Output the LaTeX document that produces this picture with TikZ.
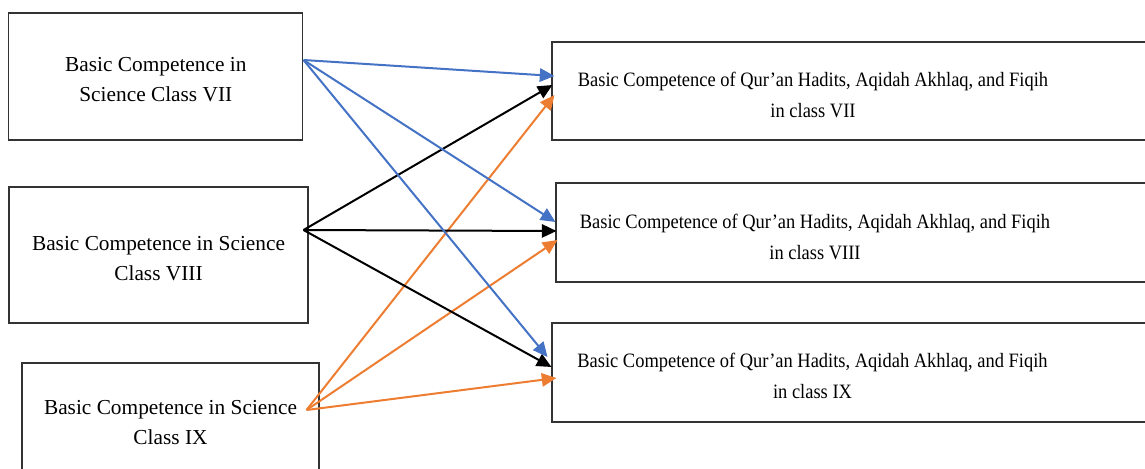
\documentclass[tikz,border=0pt]{standalone}
\usepackage{fontspec}
\setmainfont{Liberation Serif}
\newfontfamily\narrowserif[FakeStretch=0.905]{Liberation Serif}
\usetikzlibrary{arrows.meta,calc}
\definecolor{cblue}{HTML}{4472C4}
\definecolor{corange}{HTML}{ED7D31}
\begin{document}
\begin{tikzpicture}[x=0.75pt,y=-0.75pt,
  box/.style={draw=black!80, line width=0.8pt, rectangle, inner sep=0pt},
  ltxt/.style={inner sep=0pt, align=center, font=\fontsize{16pt}{22.5pt}\selectfont},
  rtxt/.style={inner sep=0pt, align=center, font=\narrowserif\fontsize{15.3pt}{23.25pt}\selectfont},
  conn/.style={line width=1.5pt, -{Triangle[length=11pt,width=10pt]}},
  bl/.style={conn, draw=cblue, fill=cblue},
  bk/.style={conn, draw=black, fill=black},
  og/.style={conn, draw=corange, fill=corange}]
\useasboundingbox (0,0) rectangle (1145,468);
% left boxes
\node[box, minimum width=220.3pt, minimum height=95.25pt] (l1) at (155.8,76.5) {};
\node[box, minimum width=224.25pt, minimum height=102pt] (l2) at (158.5,255) {};
\node[box, minimum width=222.75pt, minimum height=89.25pt] (l3) at (170.5,422.5) {};
\node[ltxt] (l1t) at (155.8,80) {Basic Competence in\\Science Class VII};
\node[ltxt] (l2t) at (158.5,259) {Basic Competence in Science\\Class VIII};
\node[ltxt] (l3t) at (170.5,422.5) {Basic Competence in Science\\Class IX};
% right boxes
\node[box, minimum width=456pt, minimum height=73.5pt] (r1) at (856,91) {};
\node[box, minimum width=453pt, minimum height=74.25pt] (r2) at (858,232.5) {};
\node[box, minimum width=456pt, minimum height=74.25pt] (r3) at (856,372.5) {};
\node[rtxt] (r1t) at (813,94.5) {Basic Competence of Qur’an Hadits, Aqidah Akhlaq, and Fiqih\\in class VII};
\node[rtxt] (r2t) at (815,237) {Basic Competence of Qur’an Hadits, Aqidah Akhlaq, and Fiqih\\in class VIII};
\node[rtxt] (r3t) at (812.5,376) {Basic Competence of Qur’an Hadits, Aqidah Akhlaq, and Fiqih\\in class IX};
% connectors
\coordinate (s1) at ($(l1.east)+(0.3,-16.5)$);
\coordinate (s2) at ($(l2.east)+(-5,-25)$);
\coordinate (s3) at ($(l3.east)+(-13,-12.5)$);
\draw[og] (s3) -- ($(r1.west)+(3,4)$);
\draw[og] (s3) -- ($(r2.west)+(2,7.5)$);
\draw[og] (s3) -- ($(r3.west)+(5,5.5)$);
\draw[bk] (s2) -- ($(r1.west)+(1,-6)$);
\draw[bk] (s2) -- ($(r2.west)+(1,-1.5)$);
\draw[bk] (s2) -- ($(r3.west)+(0,-5.5)$);
\draw[bl] (s1) -- ($(r1.west)+(3,-15)$);
\draw[bl] (s1) -- ($(r2.west)+(0,-10.5)$);
\draw[bl] (s1) -- ($(r3.west)+(-4,-15.5)$);
\end{tikzpicture}
\end{document}
